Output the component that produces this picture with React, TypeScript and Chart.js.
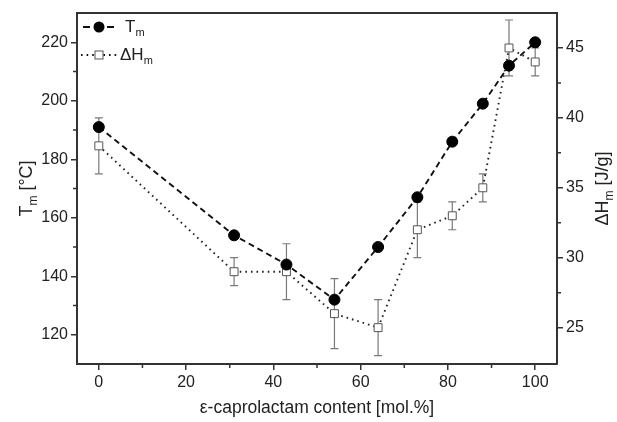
import React, { useEffect, useRef } from "react";
import { Chart, registerables } from "chart.js";

Chart.register(...registerables);

// ---- data ----
const xValues = [0, 31, 43, 54, 64, 73, 81, 88, 94, 100];
const tmValues = [191, 154, 144, 132, 150, 167, 186, 199, 212, 220];
const dhValues = [38, 29, 29, 26, 25, 32, 33, 35, 45, 44];
const dhErrors = [2, 1, 2, 2.5, 2, 2, 1, 1, 2, 1];

const xTicks = [0, 20, 40, 60, 80, 100];
const xMinorTicks = [10, 30, 50, 70, 90];
const tmTicks = [120, 140, 160, 180, 200, 220];
const tmMinorTicks = [130, 150, 170, 190, 210];
const dhTicks = [25, 30, 35, 40, 45];
const dhMinorTicks = [27.5, 32.5, 37.5, 42.5];

const xTitle = "ε-caprolactam content [mol.%]";
const tmTitle: [string, boolean][] = [["T", false], ["m", true], [" [°C]", false]];
const dhTitle: [string, boolean][] = [["ΔH", false], ["m", true], [" [J/g]", false]];
const tmLegend: [string, boolean][] = [["T", false], ["m", true]];
const dhLegend: [string, boolean][] = [["ΔH", false], ["m", true]];

const FONT = "'Liberation Sans', Arial, sans-serif";
const AXIS = "#333";
const TEXT = "#222";

function measureParts(ctx: CanvasRenderingContext2D, parts: [string, boolean][], size: number, subSize: number) {
  let w = 0;
  for (const [t, sub] of parts) {
    ctx.font = `${sub ? subSize : size}px ${FONT}`;
    w += ctx.measureText(t).width;
  }
  return w;
}

function drawParts(ctx: CanvasRenderingContext2D, parts: [string, boolean][], x: number, y: number, size: number, subSize: number) {
  let cx = x;
  ctx.textAlign = "left";
  ctx.textBaseline = "middle";
  ctx.fillStyle = TEXT;
  for (const [t, sub] of parts) {
    ctx.font = `${sub ? subSize : size}px ${FONT}`;
    ctx.fillText(t, cx, sub ? y + size * 0.35 : y);
    cx += ctx.measureText(t).width;
  }
}

const decor = {
  id: "decor",
  beforeDatasetsDraw(chart: any) {
    const { ctx } = chart;
    const xs = chart.scales.x;
    const ys = chart.scales.y1;
    ctx.save();
    ctx.strokeStyle = "#7a7a7a";
    ctx.lineWidth = 1.2;
    for (let i = 0; i < xValues.length; i++) {
      const px = xs.getPixelForValue(xValues[i]);
      const top = ys.getPixelForValue(dhValues[i] + dhErrors[i]);
      const bot = ys.getPixelForValue(dhValues[i] - dhErrors[i]);
      ctx.beginPath();
      ctx.moveTo(px, top);
      ctx.lineTo(px, bot);
      ctx.moveTo(px - 4, top);
      ctx.lineTo(px + 4, top);
      ctx.moveTo(px - 4, bot);
      ctx.lineTo(px + 4, bot);
      ctx.stroke();
    }
    ctx.restore();
  },
  afterDraw(chart: any) {
    const { ctx, chartArea } = chart;
    const { left, right, top, bottom } = chartArea;
    const xs = chart.scales.x;
    const yl = chart.scales.y;
    const yr = chart.scales.y1;
    ctx.save();
    // top frame
    ctx.strokeStyle = AXIS;
    ctx.lineWidth = 2;
    ctx.beginPath();
    ctx.moveTo(left - 1, top);
    ctx.lineTo(right + 1, top);
    ctx.stroke();
    // minor ticks
    ctx.lineWidth = 1.5;
    ctx.beginPath();
    for (const v of xMinorTicks) {
      const p = xs.getPixelForValue(v);
      ctx.moveTo(p, bottom);
      ctx.lineTo(p, bottom + 4);
    }
    for (const v of tmMinorTicks) {
      const p = yl.getPixelForValue(v);
      ctx.moveTo(left - 4, p);
      ctx.lineTo(left, p);
    }
    for (const v of dhMinorTicks) {
      const p = yr.getPixelForValue(v);
      ctx.moveTo(right, p);
      ctx.lineTo(right + 4, p);
    }
    ctx.stroke();

    // axis titles
    ctx.fillStyle = TEXT;
    ctx.font = `17.5px ${FONT}`;
    ctx.textAlign = "center";
    ctx.textBaseline = "middle";
    ctx.fillText(xTitle, (left + right) / 2, 408);

    const midY = (top + bottom) / 2;
    for (const [parts, cx] of [[tmTitle, 27], [dhTitle, 603]] as [[string, boolean][], number][]) {
      ctx.save();
      ctx.translate(cx, midY);
      ctx.rotate(-Math.PI / 2);
      const w = measureParts(ctx, parts, 18, 12);
      drawParts(ctx, parts, -w / 2, 0, 18, 12);
      ctx.restore();
    }

    // legend
    const r1 = top + 14;
    const r2 = top + 42;
    const lx = left + 6;
    ctx.strokeStyle = "#111";
    ctx.lineWidth = 1.8;
    ctx.beginPath();
    ctx.moveTo(lx, r1);
    ctx.lineTo(lx + 7, r1);
    ctx.moveTo(lx + 24, r1);
    ctx.lineTo(lx + 31, r1);
    ctx.stroke();
    ctx.fillStyle = "#000";
    ctx.beginPath();
    ctx.arc(lx + 16, r1, 5.5, 0, Math.PI * 2);
    ctx.fill();
    drawParts(ctx, tmLegend, lx + 42, r1, 17, 11);

    ctx.setLineDash([1.6, 4]);
    ctx.beginPath();
    ctx.moveTo(lx - 2, r2);
    ctx.lineTo(lx + 34, r2);
    ctx.stroke();
    ctx.setLineDash([]);
    ctx.fillStyle = "#fff";
    ctx.strokeStyle = "#555";
    ctx.lineWidth = 1;
    ctx.fillRect(lx + 12, r2 - 4, 8, 8);
    ctx.strokeRect(lx + 12, r2 - 4, 8, 8);
    drawParts(ctx, dhLegend, lx + 37, r2, 17, 11);
    ctx.restore();
  },
};

const tickFont = { family: FONT, size: 16 };

export default function App() {
  const ref = useRef<HTMLCanvasElement>(null);
  useEffect(() => {
    const chart = new Chart(ref.current!, {
      type: "line",
      data: {
        datasets: [
          {
            label: "Tm",
            data: xValues.map((x, i) => ({ x, y: tmValues[i] })),
            yAxisID: "y",
            borderColor: "#111",
            borderWidth: 1.9,
            borderDash: [6, 4],
            pointStyle: "circle",
            pointRadius: 5.5,
            pointBackgroundColor: "#000",
            pointBorderColor: "#000",
            pointBorderWidth: 1,
            fill: false,
            tension: 0,
          },
          {
            label: "ΔHm",
            data: xValues.map((x, i) => ({ x, y: dhValues[i] })),
            yAxisID: "y1",
            borderColor: "#222",
            borderWidth: 1.9,
            borderDash: [1.6, 4],
            pointStyle: "rect",
            pointRadius: 5.6,
            pointBackgroundColor: "#fff",
            pointBorderColor: "#555",
            pointBorderWidth: 1,
            fill: false,
            tension: 0,
          },
        ],
      },
      options: {
        responsive: true,
        maintainAspectRatio: false,
        animation: false,
        layout: { padding: { top: 13, left: 0, right: 0, bottom: 0 } },
        plugins: { legend: { display: false }, tooltip: { enabled: false } },
        scales: {
          x: {
            type: "linear",
            min: -5,
            max: 105,
            afterBuildTicks: (s: any) => {
              s.ticks = xTicks.map((v) => ({ value: v }));
            },
            afterFit: (s: any) => {
              s.height = 58;
            },
            grid: { drawOnChartArea: false, drawTicks: true, tickLength: 6, color: AXIS, lineWidth: 1.5 },
            border: { display: true, color: AXIS, width: 2 },
            ticks: { font: tickFont, color: TEXT, padding: 3, maxRotation: 0 },
          },
          y: {
            type: "linear",
            position: "left",
            min: 110,
            max: 230,
            afterBuildTicks: (s: any) => {
              s.ticks = tmTicks.map((v) => ({ value: v }));
            },
            afterFit: (s: any) => {
              s.width = 77;
            },
            grid: { drawOnChartArea: false, drawTicks: true, tickLength: 6, color: AXIS, lineWidth: 1.5 },
            border: { display: true, color: AXIS, width: 2 },
            ticks: { font: tickFont, color: TEXT, padding: 3 },
          },
          y1: {
            type: "linear",
            position: "right",
            min: 22.4,
            max: 47.5,
            afterBuildTicks: (s: any) => {
              s.ticks = dhTicks.map((v) => ({ value: v }));
            },
            afterFit: (s: any) => {
              s.width = 60;
            },
            grid: { drawOnChartArea: false, drawTicks: true, tickLength: 6, color: AXIS, lineWidth: 1.5 },
            border: { display: true, color: AXIS, width: 2 },
            ticks: { font: tickFont, color: TEXT, padding: 3 },
          },
        },
      },
      plugins: [decor],
    } as any);
    return () => chart.destroy();
  }, []);
  return (
    <div style={{ position: "fixed", left: 0, top: 0, width: 617, height: 422, background: "#fff" }}>
      <canvas ref={ref} />
    </div>
  );
}
